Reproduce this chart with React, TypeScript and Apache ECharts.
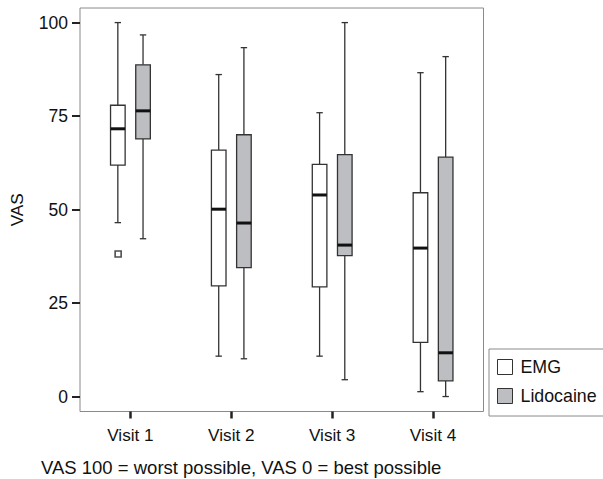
import React, { useEffect, useRef } from 'react';
import * as echarts from 'echarts';

const categories = ['Visit 1', 'Visit 2', 'Visit 3', 'Visit 4'];
const seriesNames = ['EMG', 'Lidocaine'];
// each row: [low whisker, Q1, median, Q3, high whisker]
const emgStats = [
  [46.5, 61.9, 71.6, 77.9, 100],
  [10.8, 29.6, 50.1, 65.9, 86.1],
  [10.8, 29.3, 53.9, 62.1, 75.9],
  [1.3, 14.5, 39.7, 54.5, 86.6],
];
const lidoStats = [
  [42.2, 68.9, 76.4, 88.7, 96.7],
  [10.1, 34.5, 46.4, 70.0, 93.3],
  [4.5, 37.7, 40.5, 64.7, 100],
  [0, 4.2, 11.7, 64.0, 90.9],
];
const emgOutliers = [[0, 38.1]];
const yTicks = [0, 25, 50, 75, 100];
const caption = 'VAS 100 = worst possible, VAS 0 = best possible';

const FONT = '"Liberation Sans", Arial, Helvetica, sans-serif';
const STROKE = '#333333';
const EMG_FILL = '#ffffff';
const LIDO_FILL = '#bdbec2';
const OFFSET = 12.6;

function makeRender(offset: number, fill: string) {
  return (params: any, api: any) => {
    const cat = api.value(0);
    const p = (v: number) => api.coord([cat, v]);
    const cx = p(api.value(1))[0] + offset;
    const yLow = p(api.value(1))[1];
    const yQ1 = p(api.value(2))[1];
    const yMed = p(api.value(3))[1];
    const yQ3 = p(api.value(4))[1];
    const yHigh = p(api.value(5))[1];
    const half = 7.3;
    const cap = 3.2;
    const ls = { stroke: STROKE, lineWidth: 1.3 };
    return {
      type: 'group',
      children: [
        { type: 'line', shape: { x1: cx, y1: yHigh, x2: cx, y2: yQ3 }, style: ls },
        { type: 'line', shape: { x1: cx, y1: yQ1, x2: cx, y2: yLow }, style: ls },
        { type: 'line', shape: { x1: cx - cap, y1: yHigh, x2: cx + cap, y2: yHigh }, style: ls },
        { type: 'line', shape: { x1: cx - cap, y1: yLow, x2: cx + cap, y2: yLow }, style: ls },
        {
          type: 'rect',
          shape: { x: cx - half, y: yQ3, width: half * 2, height: yQ1 - yQ3 },
          style: { fill, stroke: STROKE, lineWidth: 1.3 },
        },
        {
          type: 'line',
          shape: { x1: cx - half, y1: yMed, x2: cx + half, y2: yMed },
          style: { stroke: '#111111', lineWidth: 3 },
        },
      ],
    };
  };
}

export default function App() {
  const ref = useRef<HTMLDivElement>(null);
  useEffect(() => {
    if (!ref.current) return;
    const chart = echarts.init(ref.current, null, { renderer: 'svg' });
    const toData = (stats: number[][]) => stats.map((s, i) => [i, ...s]);
    chart.setOption({
      animation: false,
      backgroundColor: '#ffffff',
      textStyle: { fontFamily: FONT },
      grid: {
        left: 80,
        top: 8,
        width: 403.5,
        height: 403.5,
        show: true,
        borderColor: '#8a8a8a',
        borderWidth: 1,
        backgroundColor: 'transparent',
      },
      legend: {
        orient: 'vertical',
        left: 489,
        top: 349,
        padding: [9, 14, 11, 8],
        itemGap: 11,
        itemWidth: 15,
        itemHeight: 15,
        icon: 'rect',
        borderColor: '#8a8a8a',
        borderWidth: 1,
        backgroundColor: '#ffffff',
        selectedMode: false,
        textStyle: { fontSize: 17.8, lineHeight: 15, color: '#111111', fontFamily: FONT, padding: [0, 0, 0, 3] },
        data: [
          { name: seriesNames[0], itemStyle: { color: EMG_FILL, borderColor: STROKE, borderWidth: 1 } },
          { name: seriesNames[1], itemStyle: { color: LIDO_FILL, borderColor: STROKE, borderWidth: 1 } },
        ],
      },
      xAxis: {
        type: 'category',
        data: categories,
        boundaryGap: true,
        axisLine: { show: false, onZero: false },
        axisTick: { show: true, alignWithLabel: true, length: 7, lineStyle: { color: '#222222', width: 2.5 } },
        axisLabel: { fontSize: 17.2, color: '#111111', margin: 15, fontFamily: FONT },
        splitLine: { show: false },
      },
      yAxis: {
        type: 'value',
        min: -4,
        max: 103.9,
        name: 'VAS',
        nameLocation: 'middle',
        nameRotate: 90,
        nameGap: 55,
        nameTextStyle: { fontSize: 17.2, color: '#111111', fontFamily: FONT },
        axisLine: { show: false },
        axisTick: { show: true, length: 8, customValues: yTicks, lineStyle: { color: '#222222', width: 2 } },
        axisLabel: { fontSize: 17.5, color: '#111111', margin: 12, customValues: yTicks, fontFamily: FONT },
        splitLine: { show: false },
      },
      series: [
        {
          name: seriesNames[0],
          type: 'custom',
          renderItem: makeRender(-OFFSET, EMG_FILL),
          encode: { x: 0, y: [1, 2, 3, 4, 5] },
          itemStyle: { color: EMG_FILL, borderColor: STROKE },
          data: toData(emgStats),
          z: 3,
        },
        {
          name: seriesNames[1],
          type: 'custom',
          renderItem: makeRender(OFFSET, LIDO_FILL),
          encode: { x: 0, y: [1, 2, 3, 4, 5] },
          itemStyle: { color: LIDO_FILL, borderColor: STROKE },
          data: toData(lidoStats),
          z: 3,
        },
        {
          name: 'EMG outliers',
          type: 'scatter',
          symbol: 'rect',
          symbolSize: 6,
          symbolOffset: [-OFFSET + 0.3, 0],
          itemStyle: { color: '#ffffff', borderColor: '#222222', borderWidth: 1.6 },
          data: emgOutliers,
          z: 4,
        },
      ],
      graphic: [
        {
          type: 'text',
          left: 41,
          top: 458,
          style: { text: caption, fontSize: 18.5, fill: '#111111', fontFamily: FONT },
        },
      ],
    });
    return () => chart.dispose();
  }, []);
  return (
    <div
      ref={ref}
      style={{ position: 'absolute', left: 0, top: 0, width: 603, height: 479 }}
    />
  );
}
